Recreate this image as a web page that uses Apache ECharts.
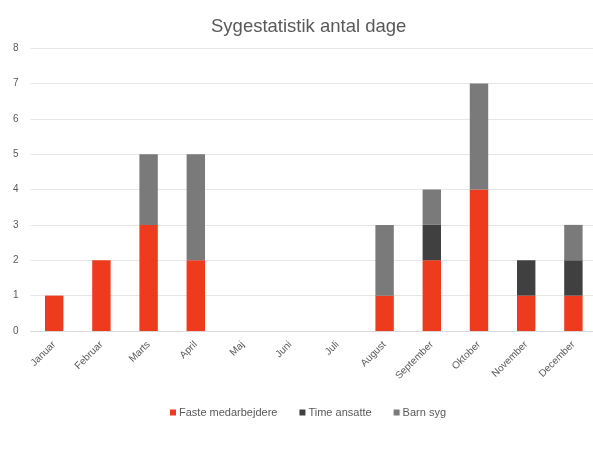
<!DOCTYPE html>
<html>
<head>
<meta charset="utf-8">
<script src="https://cdn.jsdelivr.net/npm/echarts@6/dist/echarts.min.js"></script>
<style>html,body{margin:0;padding:0;background:#fff}#chart{width:593px;height:450px}</style>
</head>
<body>
<div id="chart"></div>
<script>
// kategorier og serier
let months = ['Januar','Februar','Marts','April','Maj','Juni','Juli','August','September','Oktober','November','December'];
let faste = [1,2,3,2,0,0,0,1,2,4,1,1];
let timeAnsatte = [0,0,0,0,0,0,0,0,1,0,1,1];
let barnSyg = [0,0,2,3,0,0,0,2,1,3,0,1];

let txt = '#595959';
let mk = (name, data, color) => ({
    name: name, type: 'bar', stack: 'total', data: data, barWidth: '39%',
    itemStyle: {color: color}
});

let chart = echarts.init(document.getElementById('chart'));
chart.setOption({
    animation: false,
    title: {
        text: 'Sygestatistik antal dage', left: 206, top: 12,
        textStyle: {fontFamily: 'Liberation Sans', fontSize: 18.5, fontWeight: 'normal', color: txt}
    },
    legend: {
        top: 402, left: 165, icon: 'rect', itemWidth: 6, itemHeight: 6, itemGap: 22,
        textStyle: {fontFamily: 'Liberation Sans', fontSize: 11, color: txt, padding: [0,0,0,-2]},
        data: ['Faste medarbejdere','Time ansatte','Barn syg']
    },
    grid: {left: 30.6, width: 566.4, top: 48, bottom: 119, containLabel: false, outerBoundsMode: 'none'},
    xAxis: {
        type: 'category', data: months,
        axisLine: {lineStyle: {color: '#d9d9d9'}}, axisTick: {show: false},
        axisLabel: {rotate: 45, color: txt, fontSize: 10, fontFamily: 'Liberation Sans', margin: 12}
    },
    yAxis: {
        type: 'value', min: 0, max: 8, interval: 1,
        axisLabel: {color: txt, fontSize: 10, fontFamily: 'Liberation Sans', margin: 12},
        splitLine: {lineStyle: {color: '#e6e6e6'}}
    },
    series: [
        mk('Faste medarbejdere', faste, '#EE3B1E'),
        mk('Time ansatte', timeAnsatte, '#404040'),
        mk('Barn syg', barnSyg, '#7A7A7A')
    ]
});
</script>
</body>
</html>
